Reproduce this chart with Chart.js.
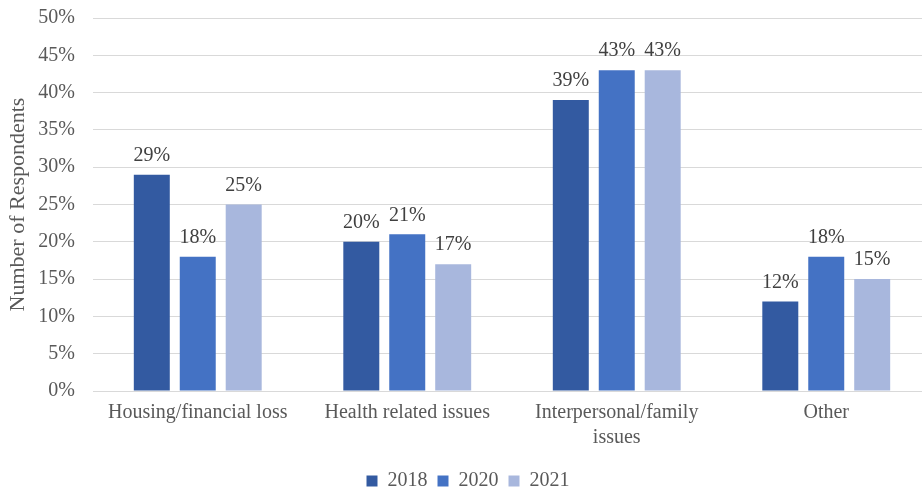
<!DOCTYPE html>
<html>
<head>
<meta charset="utf-8">
<script src="https://cdn.jsdelivr.net/npm/chart.js@4/dist/chart.umd.min.js"></script>
<style>
  html, body { margin: 0; padding: 0; background: #fff; overflow: hidden; }
  #wrap { position: absolute; left: 0; top: -12px; width: 931px; height: 513px; }
</style>
</head>
<body>
<div id="wrap"><canvas id="chart"></canvas></div>
<script>
const categories = [
  'Housing/financial loss',
  'Health related issues',
  ['Interpersonal/family', 'issues'],
  'Other'
];
const years = ['2018', '2020', '2021'];
const values2018 = [29, 20, 39, 12];
const values2020 = [18, 21, 43, 18];
const values2021 = [25, 17, 43, 15];
const colors = ['#335AA1', '#4472C4', '#A8B7DD'];

// draw the % above each bar
const barLabels = {
  id: 'barLabels',
  afterDatasetsDraw(chart) {
    const ctx = chart.ctx;
    ctx.save();
    ctx.font = '20px "Liberation Serif", "Times New Roman", serif';
    ctx.fillStyle = '#404040';
    ctx.textAlign = 'center';
    ctx.textBaseline = 'bottom';
    chart.data.datasets.forEach((ds, i) => {
      chart.getDatasetMeta(i).data.forEach((bar, j) => {
        ctx.fillText(ds.data[j] + '%', bar.x, bar.y - 9);
      });
    });
    ctx.restore();
  }
};

window.onload = function() {
  const ctx = document.querySelector('#chart');
  const serif = '"Liberation Serif", "Times New Roman", serif';

  new Chart(ctx, {
    type: 'bar',
    data: {
      labels: categories,
      datasets: [
        { label: years[0], data: values2018, backgroundColor: colors[0] },
        { label: years[1], data: values2020, backgroundColor: colors[1] },
        { label: years[2], data: values2021, backgroundColor: colors[2] }
      ]
    },
    options: {
      responsive: true,
      maintainAspectRatio: false,
      animation: false,
      layout: { padding: { top: 0, right: 0, left: 5, bottom: 0 } },
      datasets: {
        bar: { categoryPercentage: 0.658, barPercentage: 0.783 }
      },
      scales: {
        x: {
          grid: { display: false, drawTicks: false },
          border: { color: '#D9D9D9', width: 1 },
          ticks: {
            color: '#595959',
            font: { family: serif, size: 20, lineHeight: 1.25 },
            padding: 9,
            maxRotation: 0
          },
          afterFit: scale => { scale.height = 70; }
        },
        y: {
          min: 0,
          max: 50,
          grid: { color: '#D9D9D9', drawTicks: false },
          border: { display: false },
          ticks: {
            stepSize: 5,
            color: '#595959',
            font: { family: serif, size: 20 },
            padding: 18,
            callback: v => v + '%'
          },
          title: {
            display: true,
            text: 'Number of Respondents',
            color: '#595959',
            font: { family: serif, size: 22 },
            padding: 0
          },
          afterFit: scale => { scale.width = 88; }
        }
      },
      plugins: {
        legend: {
          position: 'bottom',
          labels: {
            color: '#595959',
            font: { family: serif, size: 20 },
            boxWidth: 11,
            boxHeight: 11,
            padding: 10
          }
        },
        tooltip: { enabled: false }
      }
    },
    plugins: [barLabels]
  });
}
</script>
</body>
</html>
